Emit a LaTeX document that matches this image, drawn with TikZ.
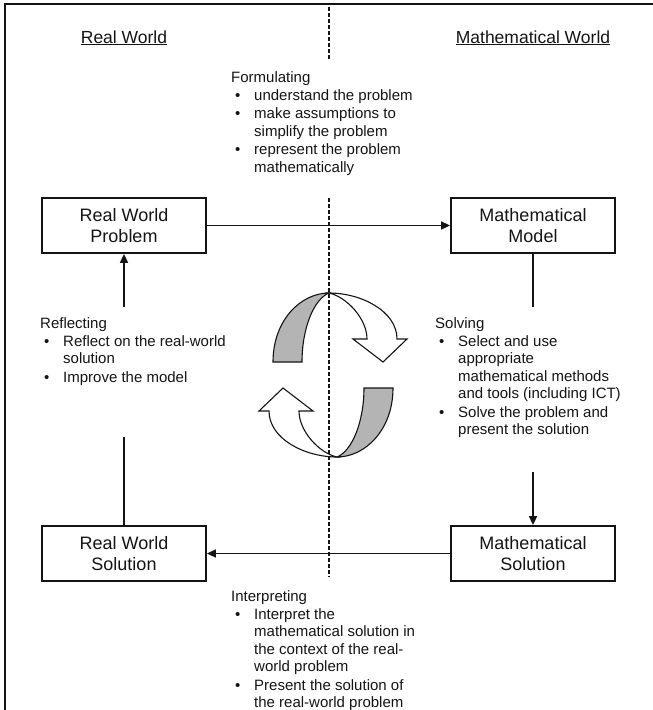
\documentclass[tikz,border=0pt]{standalone}
\usepackage{fontspec}
\setmainfont{Liberation Sans}
\usetikzlibrary{arrows.meta}
\definecolor{ink}{HTML}{141414}
\definecolor{ribbongray}{HTML}{B4B4B4}
\newcommand\bitem{\hspace*{4pt}\makebox[19pt][l]{\textbullet}}
\newcommand\citem{\hspace*{23pt}}
\tikzset{
  stagebox/.style={draw=ink, line width=1.8pt, minimum width=164pt, minimum height=55pt,
    inner sep=0pt, align=center, font=\fontsize{18}{21}\selectfont, text=ink},
  heading/.style={inner sep=0pt, anchor=base, font=\fontsize{17.5}{20}\selectfont, text=ink},
  listtext/.style={inner sep=0pt, anchor=north west, align=left,
    font=\fontsize{15}{17.5}\selectfont, text=ink},
  conn/.style={draw=ink, line width=1.6pt},
  connarrow/.style={conn, -{Triangle[length=9pt,width=8pt]}},
  divider/.style={draw=ink, line width=1.2pt, dash pattern=on 3.5pt off 2.5pt},
  pics/ribbon/.style={code={
    \filldraw[fill=ribbongray, draw=ink, line width=1.1pt]
      (-60,-13) -- (-31,-13) .. controls (-31,-47) and (-19,-76) .. (-4,-82)
      .. controls (-32,-82) and (-60,-55) .. cycle;
    \filldraw[fill=white, draw=ink, line width=1.1pt]
      (-4,-82) .. controls (28,-82) and (64,-64) .. (64,-36) -- (74,-36) -- (50,-13)
      -- (20,-36) -- (34,-36) .. controls (34,-56) and (14,-78) .. cycle;
  }}
}
\begin{document}
\begin{tikzpicture}[x=1pt,y=-1pt]
\useasboundingbox (0,0) rectangle (653,710);
% frame
\draw[draw=ink, line width=2.5pt] (5,710) -- (5,4) -- (653,4);
% headings
\node[heading] (hrw) at (124,43) {\underline{Real World}};
\node[heading] (hmw) at (533,43) {\underline{Mathematical World}};
% boxes
\node[stagebox] (rwp) at (124,225.5) {Real World\\Problem};
\node[stagebox] (mm) at (533,225.5) {Mathematical\\Model};
\node[stagebox] (rws) at (124,553.5) {Real World\\Solution};
\node[stagebox] (ms) at (533,553.5) {Mathematical\\Solution};
% cycle arrows
\pic at (333,375) {ribbon};
\pic[rotate=180] at (333,375) {ribbon};
% text blocks
\node[listtext] (form) at (231,71) {Formulating\\[0.5pt]
\bitem understand the problem\\[1pt]
\bitem make assumptions to\\
\citem simplify the problem\\[1pt]
\bitem represent the problem\\
\citem mathematically};
\node[listtext] (refl) at (40,317) {Reflecting\\[0.5pt]
\bitem Reflect on the real-world\\
\citem solution\\[1pt]
\bitem Improve the model};
\node[listtext] (solv) at (435,317) {Solving\\[0.5pt]
\bitem Select and use\\
\citem appropriate\\
\citem mathematical methods\\
\citem and tools (including ICT)\\[1pt]
\bitem Solve the problem and\\
\citem present the solution};
\node[listtext] (interp) at (231,590) {Interpreting\\[0.5pt]
\bitem Interpret the\\
\citem mathematical solution in\\
\citem the context of the real-\\
\citem world problem\\[1pt]
\bitem Present the solution of\\
\citem the real-world problem};
% connector ends
\coordinate (mmend) at (533,307);
\coordinate (msstart) at (533,472);
\coordinate (rwsend) at (124,437);
\coordinate (rwpstart) at (124,307);
% connectors
\draw[connarrow] (rwp.east) -- (mm.west);
\draw[conn] (mm.south) -- (mmend);
\draw[connarrow] (msstart) -- (ms.north);
\draw[connarrow] (ms.west) -- (rws.east);
\draw[conn] (rws.north) -- (rwsend);
\draw[connarrow] (rwpstart) -- (rwp.south);
% divider
\coordinate (d1) at (329,7);
\coordinate (d2) at (329,60);
\coordinate (d3) at (329,198);
\coordinate (d4) at (329,577);
\draw[divider] (d1) -- (d2);
\draw[divider] (d3) -- (d4);
\end{tikzpicture}
\end{document}
